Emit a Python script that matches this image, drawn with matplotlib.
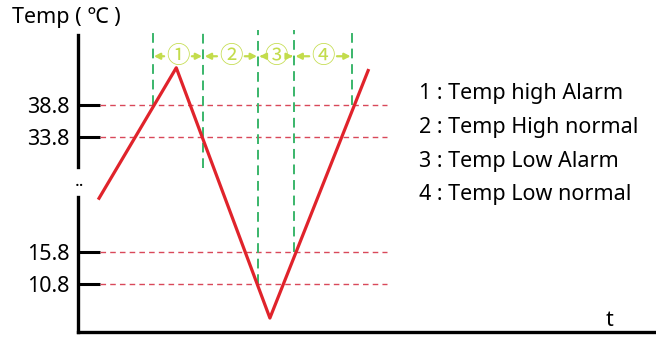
import matplotlib.pyplot as plt

plt.rcParams['font.family'] = ['Noto Sans', 'Noto Sans CJK SC', 'DejaVu Sans']

# temperature curve (time in arbitrary units, temp in degC)
curve_t = [3.5, 17.0, 33.2, 50.3]
curve_temp = [24.0, 44.6, 5.5, 44.4]

# alarm / normal thresholds
thresholds = [38.8, 33.8, 15.8, 10.8]
threshold_labels = ['38.8', '33.8', '15.8', '10.8']

# zone boundaries (green) and how far down each one goes
zone_t = [12.9, 21.7, 31.2, 37.4, 47.4]
zone_bottom = [38.8, 28.9, 10.8, 15.8, 38.8]
zone_names = ['①', '②', '③', '④']

legend_lines = ['1 : Temp high Alarm', '2 : Temp High normal',
                '3 : Temp Low Alarm', '4 : Temp Low normal']

red = '#e0232b'
green = '#3ab56a'
lime = '#c3dc4c'

fig = plt.figure(figsize=(6.56, 3.38), dpi=100)
ax = fig.add_axes([78 / 656, 6 / 338, 578 / 656, 297 / 338])
ax.set_xlim(0, 100)
ax.set_ylim(3.32, 49.72)

for s in ['top', 'right', 'left']:
    ax.spines[s].set_visible(False)
ax.spines['bottom'].set_linewidth(2.4)

# broken y axis
ax.plot([0, 0], [0.557, 1], transform=ax.transAxes, color='black', lw=2.4, clip_on=False)
ax.plot([0, 0], [0, 0.453], transform=ax.transAxes, color='black', lw=2.4, clip_on=False)
ax.text(0.003, 0.51, '..', transform=ax.transAxes, ha='center', va='center',
        fontsize=13, fontweight='bold')

ax.set_xticks([])
ax.set_yticks(thresholds)
ax.set_yticklabels(threshold_labels, fontsize=15.5)
ax.tick_params(axis='y', direction='in', length=16, width=2.2, pad=6)

# threshold lines
for th in thresholds:
    ax.plot([3.8, 53.5], [th, th], color='#d9485a', lw=1, dashes=(4, 3))

# zone markers
for t, b in zip(zone_t, zone_bottom):
    ax.plot([t, t], [b, 50.5], color=green, lw=1.4, dashes=(5, 3), clip_on=False)

arrow_y = 46.4
for i, name in enumerate(zone_names):
    mid = (zone_t[i] + zone_t[i + 1]) / 2
    for end in (zone_t[i], zone_t[i + 1]):
        ax.annotate('', xy=(end, arrow_y), xytext=(mid, arrow_y),
                    arrowprops=dict(arrowstyle='-|>,head_length=0.35,head_width=0.18',
                                    color=lime, lw=1.6, shrinkA=10, shrinkB=1))
    ax.text(mid, arrow_y, name, ha='center', va='center', fontsize=17, color=lime,
            family=['Noto Sans CJK SC', 'DejaVu Sans'])

ax.plot(curve_t, curve_temp, color=red, lw=2.3, solid_capstyle='butt')

fig.text(12 / 656, 1 - 17 / 338, 'Temp ( ℃ )', fontsize=15.5, va='center',
         family=['Noto Sans', 'Noto Sans CJK SC', 'DejaVu Sans'])
fig.text(606 / 656, 1 - 320 / 338, 't', fontsize=15.5, va='center')

for i, line in enumerate(legend_lines):
    fig.text(419 / 656, 1 - (93 + 34 * i) / 338, line, fontsize=15.5, va='center')

fig.savefig('out.png', dpi=100)
